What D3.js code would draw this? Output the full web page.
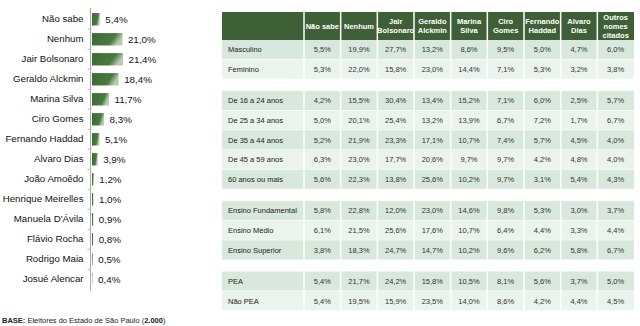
<!DOCTYPE html>
<html><head><meta charset="utf-8">
<script src="https://cdn.jsdelivr.net/npm/d3@7"></script>
<style>
html,body{margin:0;padding:0;background:#fff;}
svg{display:block;font-family:"Liberation Sans",Arial,sans-serif;}
</style></head>
<body><svg id="c" width="640" height="326"></svg>
<script>
// ---- bar chart data ----
const candidates = ["Não sabe","Nenhum","Jair Bolsonaro","Geraldo Alckmin","Marina Silva","Ciro Gomes","Fernando Haddad","Alvaro Dias","João Amoêdo","Henrique Meirelles","Manuela D'Ávila","Flávio Rocha","Rodrigo Maia","Josué Alencar"];
const totals = [5.4,21.0,21.4,18.4,11.7,8.3,5.1,3.9,1.2,1.0,0.9,0.8,0.5,0.4];

// ---- table data ----
const columns = ["Não sabe","Nenhum","Jair|Bolsonaro","Geraldo|Alckmin","Marina|Silva","Ciro|Gomes","Fernando|Haddad","Alvaro|Dias","Outros|nomes|citados"];
const rowGroups = [
  ["Masculino","Feminino"],
  ["De 16 a 24 anos","De 25 a 34 anos","De 35 a 44 anos","De 45 a 59 anos","60 anos ou mais"],
  ["Ensino Fundamental","Ensino Médio","Ensino Superior"],
  ["PEA","Não PEA"]
];
const tableValues = [
  [[5.5,19.9,27.7,13.2,8.6,9.5,5.0,4.7,6.0],
   [5.3,22.0,15.8,23.0,14.4,7.1,5.3,3.2,3.8]],
  [[4.2,15.5,30.4,13.4,15.2,7.1,6.0,2.5,5.7],
   [5.0,20.1,25.4,13.2,13.9,6.7,7.2,1.7,6.7],
   [5.2,21.9,23.3,17.1,10.7,7.4,5.7,4.5,4.0],
   [6.3,23.0,17.7,20.6,9.7,9.7,4.2,4.8,4.0],
   [5.6,22.3,13.8,25.6,10.2,9.7,3.1,5.4,4.3]],
  [[5.8,22.8,12.0,23.0,14.6,9.8,5.3,3.0,3.7],
   [6.1,21.5,25.6,17.6,10.7,6.4,4.4,3.3,4.4],
   [3.8,18.3,24.7,14.7,10.2,9.6,6.2,5.8,6.7]],
  [[5.4,21.7,24.2,15.8,10.5,8.1,5.6,3.7,5.0],
   [5.4,19.5,15.9,23.5,14.0,8.6,4.2,4.4,4.5]]
];

const fmt = v => d3.format(".1f")(v).replace(".", ",") + "%";
const svg = d3.select("#c");

// gradient for bars
const defs = svg.append("defs");
const g = defs.append("linearGradient").attr("id","barg").attr("x1","0").attr("x2","1").attr("y1","0").attr("y2","0.3");
g.append("stop").attr("offset","0").attr("stop-color","#3a6832");
g.append("stop").attr("offset","0.75").attr("stop-color","#4a7a42");
g.append("stop").attr("offset","1").attr("stop-color","#b5ccb0");

// ---- bar chart ----
const y = d3.scaleBand().domain(candidates).range([9.3, 289.3]).paddingInner(0.38).paddingOuter(0.19);
const x = d3.scaleLinear().domain([0, 21.4]).range([92, 123]);

const axisG = svg.append("g").attr("transform","translate(90.5,0)")
  .call(d3.axisLeft(y).tickSize(0).tickPadding(7));
axisG.select(".domain").attr("stroke","#aaa").attr("d","M0,8V291");
axisG.selectAll(".tick text").attr("fill","#111").attr("font-size","9.7px")
  .attr("font-family","'Liberation Sans',Arial,sans-serif");
// boundary ticks
const bounds = d3.range(1, candidates.length).map(i => y.step()*i + 9.3);
svg.append("g").selectAll("line").data(bounds).join("line")
  .attr("x1",87.5).attr("x2",90.5).attr("y1",d=>d).attr("y2",d=>d)
  .attr("stroke","#bbb");

svg.append("g").selectAll("rect").data(candidates).join("rect")
  .attr("x", x(0)).attr("y", d => y(d))
  .attr("width", (d,i) => x(totals[i]) - x(0))
  .attr("height", y.bandwidth())
  .attr("fill","url(#barg)");

svg.append("g").selectAll("text").data(candidates).join("text")
  .attr("x", (d,i) => x(totals[i]) + 5.5)
  .attr("y", d => y(d) + y.bandwidth()/2)
  .attr("dy","0.35em").attr("font-size","9.8px").attr("fill","#111")
  .text((d,i) => fmt(totals[i]));

// base note
const base = svg.append("text").attr("x",2).attr("y",322.5).attr("font-size","7.5px").attr("fill","#222");
base.append("tspan").attr("font-weight","bold").text("BASE:");
base.append("tspan").text(" Eleitores do Estado de São Paulo (");
base.append("tspan").attr("font-weight","bold").text("2.000");
base.append("tspan").text(")");

// ---- table ----
const tx = d3.scaleBand().domain(d3.range(columns.length)).range([304, 634]);
const labelX0 = 222, hTop = 12, hBot = 40, rowH = 19.7, gap = 11.5;
const headColor = "#3f5f37", dark = "#d8e8dc", light = "#eaf3ec";

// header
svg.append("rect").attr("x",labelX0).attr("y",hTop).attr("width",634-labelX0).attr("height",hBot-hTop).attr("fill",headColor);
const hdr = svg.append("g").selectAll("g").data(columns).join("g")
  .attr("transform",(d,i)=>`translate(${tx(i)+tx.bandwidth()/2},${(hTop+hBot)/2})`);
hdr.each(function(d){
  const lines = d.split("|");
  const t = d3.select(this).append("text").attr("text-anchor","middle").attr("fill","#fff")
    .attr("font-weight","bold").attr("font-size","7.5px");
  lines.forEach((l,k)=>{
    t.append("tspan").attr("x",0).attr("y",(k-(lines.length-1)/2)*9).attr("dy","0.35em").text(l);
  });
});

// rows
let yy = hBot;
const rows = [];
rowGroups.forEach((grp, gi) => {
  if (gi > 0) yy += gap;
  grp.forEach((lab, ri) => {
    rows.push({lab, vals: tableValues[gi][ri], y: yy, fill: ri % 2 === 0 ? dark : light});
    yy += rowH;
  });
});
const rg = svg.append("g").selectAll("g").data(rows).join("g").attr("transform", d => `translate(0,${d.y})`);
rg.append("rect").attr("x",labelX0).attr("y",0).attr("width",634-labelX0).attr("height",rowH).attr("fill",d=>d.fill);
rg.append("line").attr("x1",labelX0).attr("x2",634).attr("y1",rowH).attr("y2",rowH).attr("stroke","#fff").attr("stroke-width",1.2);
rg.append("text").attr("x",228).attr("y",rowH/2).attr("dy","0.35em").attr("font-size","7.5px").attr("fill","#222").text(d=>d.lab);
rg.each(function(d){
  d3.select(this).selectAll("text.v").data(d.vals).join("text").attr("class","v")
    .attr("x",(v,i)=>tx(i)+tx.bandwidth()/2).attr("y",rowH/2).attr("dy","0.35em")
    .attr("text-anchor","middle").attr("font-size","7.5px").attr("fill","#333")
    .text(v=>fmt(v));
});

// vertical separators
const seps = d3.range(columns.length).map(i => tx(i));
svg.append("g").selectAll("line").data(seps).join("line")
  .attr("x1",d=>d).attr("x2",d=>d).attr("y1",hTop).attr("y2",yy)
  .attr("stroke","#fff").attr("stroke-width",1.5);
</script></body></html>
